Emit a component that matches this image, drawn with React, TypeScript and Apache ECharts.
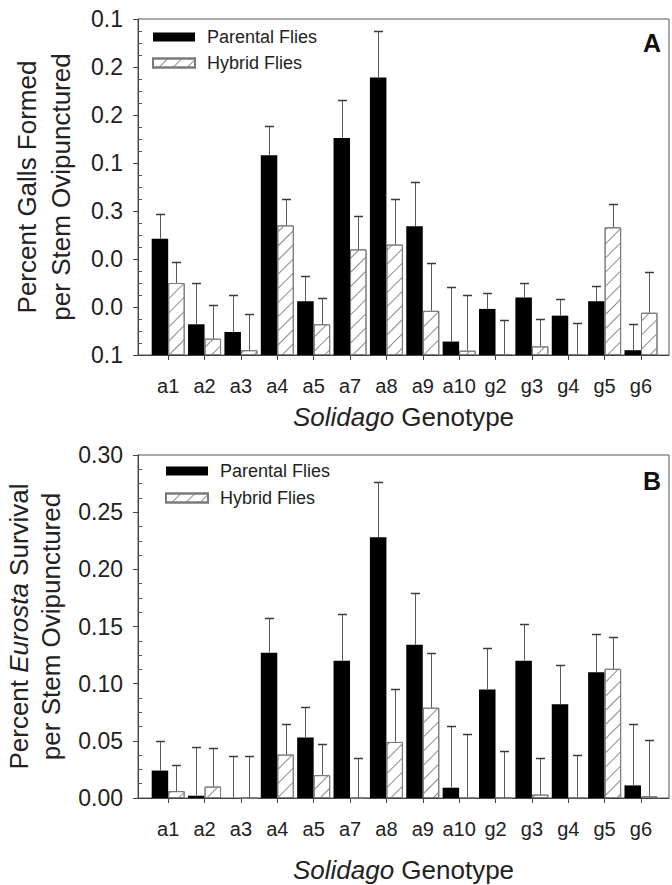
import React, { useEffect, useRef } from "react";
import * as echarts from "echarts";

const categories = ["a1", "a2", "a3", "a4", "a5", "a7", "a8", "a9", "a10", "g2", "g3", "g4", "g5", "g6"];
// tick labels, bottom to top
const yLabelsA = ["0.1", "0.0", "0.0", "0.3", "0.1", "0.2", "0.2", "0.1"];
const yLabelsB = ["0.00", "0.05", "0.10", "0.15", "0.20", "0.25", "0.30"];

// Panel A: galls formed per stem ovipunctured
const gallsParental = [0.121, 0.032, 0.024, 0.208, 0.056, 0.226, 0.289, 0.134, 0.014, 0.048, 0.06, 0.041, 0.056, 0.005];
const gallsParentalSE = [0.026, 0.043, 0.038, 0.031, 0.026, 0.04, 0.048, 0.046, 0.057, 0.017, 0.015, 0.017, 0.016, 0.027];
const gallsHybrid = [0.075, 0.017, 0.005, 0.135, 0.032, 0.11, 0.115, 0.046, 0.0045, 0.001, 0.009, 0.001, 0.133, 0.044];
const gallsHybridSE = [0.022, 0.035, 0.038, 0.028, 0.027, 0.035, 0.047, 0.05, 0.0575, 0.035, 0.028, 0.032, 0.024, 0.042];

// Panel B: Eurosta survival per stem ovipunctured
const survParental = [0.024, 0.002, 0, 0.127, 0.053, 0.12, 0.228, 0.134, 0.009, 0.095, 0.12, 0.082, 0.11, 0.011];
const survParentalSE = [0.026, 0.043, 0.037, 0.03, 0.027, 0.041, 0.048, 0.045, 0.054, 0.036, 0.032, 0.034, 0.0335, 0.054];
const survHybrid = [0.006, 0.01, 0, 0.038, 0.02, 0, 0.049, 0.079, 0.0006, 0, 0.003, 0.0006, 0.113, 0.0015];
const survHybridSE = [0.023, 0.034, 0.037, 0.027, 0.027, 0.035, 0.046, 0.048, 0.055, 0.041, 0.032, 0.037, 0.028, 0.049];

const FONT = "Liberation Sans, Arial, Helvetica, sans-serif";
const BAR_W = 16.5;
const idx = categories.map((_, i) => i);

const hatch = {
  symbol: "rect",
  color: "#8a8a8a",
  backgroundColor: "#ffffff",
  dashArrayX: [1, 0],
  dashArrayY: [1, 9],
  rotation: -Math.PI / 4,
};

function barSeries(name: string, vals: number[], grid: number, hybrid: boolean) {
  return {
    type: "bar",
    name,
    xAxisIndex: grid,
    yAxisIndex: grid,
    barWidth: BAR_W,
    barGap: "0%",
    data: vals.map((v, i) => [i, v]),
    itemStyle: hybrid
      ? { color: "#ffffff", borderColor: "#7a7a7a", borderWidth: 1, decal: hatch }
      : { color: "#000000", borderColor: "#000000", borderWidth: 0 },
  };
}

function errSeries(name: string, vals: number[], se: number[], grid: number, offset: number) {
  return {
    type: "custom",
    name: name + " SE",
    xAxisIndex: grid,
    yAxisIndex: grid,
    encode: { x: 0, y: 1 },
    z: 5,
    data: vals.map((v, i) => [i, v, se[i]]),
    renderItem: (params: any, api: any) => {
      const x = api.value(0);
      const y = api.value(1);
      const e = api.value(2);
      const base = api.coord([x, y]);
      const top = api.coord([x, y + e]);
      const cx = Math.round(base[0] + offset) + 0.5;
      const ty = Math.round(top[1]) + 0.5;
      return {
        type: "group",
        children: [
          { type: "line", shape: { x1: cx, y1: base[1], x2: cx, y2: ty }, style: { stroke: "#5a5a5a", lineWidth: 1 } },
          { type: "line", shape: { x1: cx - 4.5, y1: ty, x2: cx + 4.5, y2: ty }, style: { stroke: "#3a3a3a", lineWidth: 1.5 } },
        ],
      };
    },
  };
}

function xAxis(grid: number, nameGap: number) {
  return {
    type: "value",
    gridIndex: grid,
    min: -0.83,
    max: 13.77,
    splitLine: { show: false },
    axisLine: { show: true, onZero: false, lineStyle: { color: "#444", width: 1 } },
    axisTick: { show: true, customValues: idx, length: 5, lineStyle: { color: "#444" } },
    axisLabel: {
      customValues: idx,
      formatter: (v: number) => categories[Math.round(v)] ?? "",
      fontFamily: FONT,
      fontSize: 20,
      color: "#222",
      margin: 21,
    },
    name: "{i|Solidago} Genotype",
    nameLocation: "middle",
    nameGap,
    nameTextStyle: {
      fontFamily: FONT,
      fontSize: 26,
      color: "#222",
      rich: { i: { fontStyle: "italic", fontFamily: FONT, fontSize: 26, color: "#222" } },
    },
  };
}

function yAxis(grid: number, max: number, labels: string[], name: string, nameGap: number, lh: number) {
  return {
    type: "value",
    gridIndex: grid,
    min: 0,
    max,
    interval: 0.05,
    splitLine: { show: false },
    axisLine: { show: true, onZero: false, lineStyle: { color: "#444", width: 1 } },
    axisTick: { show: true, length: 5, lineStyle: { color: "#444" } },
    minorTick: { show: true, splitNumber: 4, length: -4, lineStyle: { color: "#555" } },
    axisLabel: {
      formatter: (v: number) => labels[Math.round(v / 0.05)] ?? "",
      fontFamily: FONT,
      fontSize: 23,
      color: "#222",
      margin: 15,
    },
    name,
    nameLocation: "middle",
    nameRotate: 90,
    nameGap,
    nameTextStyle: {
      fontFamily: FONT,
      fontSize: 26,
      lineHeight: lh,
      color: "#222",
      rich: {
        n: { fontFamily: FONT, fontSize: 26, lineHeight: lh, color: "#222" },
        i: { fontStyle: "italic", fontFamily: FONT, fontSize: 26, lineHeight: lh, color: "#222" },
      },
    },
  };
}

function legend(left: number, top: number, gap: number) {
  return {
    orient: "vertical",
    left,
    top,
    padding: 0,
    itemWidth: 42,
    itemHeight: 9,
    itemGap: gap,
    icon: "rect",
    selectedMode: false,
    data: ["Parental Flies", "Hybrid Flies"],
    textStyle: { fontFamily: FONT, fontSize: 18, lineHeight: 20, color: "#222", padding: [0, 0, 0, 7] },
  };
}

export default function App() {
  const ref = useRef<HTMLDivElement>(null);
  useEffect(() => {
    if (!ref.current) return;
    const chart = echarts.init(ref.current, undefined, { renderer: "svg" });
    chart.setOption({
      animation: false,
      backgroundColor: "#ffffff",
      grid: [
        { left: 138, top: 19, width: 531, height: 336, outerBoundsMode: "none", containLabel: false, show: true, borderColor: "#555", borderWidth: 1, backgroundColor: "transparent" },
        { left: 138, top: 455, width: 531, height: 343, outerBoundsMode: "none", containLabel: false, show: true, borderColor: "#555", borderWidth: 1, backgroundColor: "transparent" },
      ],
      xAxis: [xAxis(0, 49), xAxis(1, 59)],
      yAxis: [
        yAxis(0, 0.35, yLabelsA, "{n|Percent Galls Formed}\n{n|per Stem Ovipunctured}", 60, 34),
        yAxis(1, 0.3, yLabelsB, "{n|Percent }{i|Eurosta}{n| Survival}\n{n|per Stem Ovipunctured}", 63, 32),
      ],
      legend: [legend(152, 27, 6), legend(165, 461, 7)],
      graphic: [
        { type: "text", x: 652, y: 43, style: { text: "A", fontFamily: FONT, fontSize: 25, fontWeight: "bold", fill: "#111", align: "center", verticalAlign: "middle" } },
        { type: "text", x: 652, y: 481, style: { text: "B", fontFamily: FONT, fontSize: 25, fontWeight: "bold", fill: "#111", align: "center", verticalAlign: "middle" } },
      ],
      series: [
        barSeries("Parental Flies", gallsParental, 0, false),
        barSeries("Hybrid Flies", gallsHybrid, 0, true),
        errSeries("Parental Flies", gallsParental, gallsParentalSE, 0, -BAR_W / 2),
        errSeries("Hybrid Flies", gallsHybrid, gallsHybridSE, 0, BAR_W / 2),
        barSeries("Parental Flies", survParental, 1, false),
        barSeries("Hybrid Flies", survHybrid, 1, true),
        errSeries("Parental Flies", survParental, survParentalSE, 1, -BAR_W / 2),
        errSeries("Hybrid Flies", survHybrid, survHybridSE, 1, BAR_W / 2),
      ],
    });
    return () => chart.dispose();
  }, []);
  return <div ref={ref} style={{ position: "fixed", left: 0, top: 0, width: 672, height: 885 }} />;
}
